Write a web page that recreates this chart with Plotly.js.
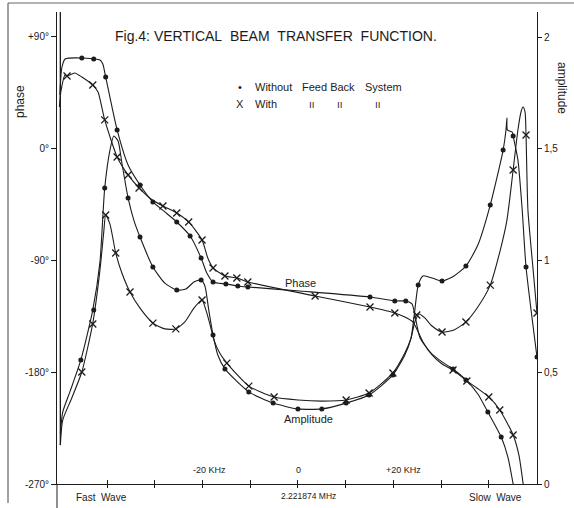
<!DOCTYPE html>
<html><head><meta charset="utf-8">
<script src="https://cdn.plot.ly/plotly-3.0.1.min.js"></script>
<style>html,body{margin:0;padding:0;background:#fff}#chart{width:574px;height:508px}</style>
</head><body><div id="chart"></div>
<script>
// Frequency offset from 2.221874 MHz, in kHz
// Phase (deg), without feedback: drawn curve
const phaseWithoutX = [-49.9,-49.5,-48.8,-45.3,-42.8,-41.5,-40.9,-40.3,-37.9,-35.6,-33.1,-30.4,-27.9,-25.4,-22.6,-20.3,-19.1,-17.8,-15.1,-12.6,-10.5,0.4,15.1,20.3,22.6,23.9,24.7,25.6,27.7,30.2,32.5,35.2,37.7,39.8,42.6,44.0,45.1];
const phaseWithoutY = [43.3,65.0,72.3,73.1,72.3,71.5,68.3,57.8,15.1,-13.1,-29.2,-42.9,-50.9,-59.0,-70.3,-88.0,-100.1,-107.3,-108.9,-110.5,-111.3,-114.6,-119.4,-122.6,-122.6,-125.0,-137.9,-152.4,-163.7,-171.7,-177.4,-186.2,-197.5,-212.0,-232.2,-248.3,-270];
// Phase, without feedback: measured points
const phaseWithoutPtsX = [-45.3,-42.8,-40.3,-37.9,-33.1,-30.4,-25.4,-22.6,-20.3,-17.8,-15.1,-12.6,-10.5,15.1,20.3,22.6,32.5,35.2,39.8,42.6];
const phaseWithoutPtsY = [73.1,72.3,57.8,15.1,-29.2,-42.9,-59.0,-70.3,-88.0,-107.3,-108.9,-110.5,-111.3,-119.4,-122.6,-122.6,-177.4,-186.2,-212.0,-232.2];

// Phase, with feedback: drawn curve
const phaseWithX = [-50.0,-49.7,-48.8,-48.4,-46.8,-45.3,-43.0,-41.9,-40.5,-37.9,-35.6,-33.3,-30.8,-28.3,-25.4,-22.9,-20.1,-18.9,-17.8,-15.3,-12.8,-10.5,3.6,15.1,20.3,22.4,24.1,25.2,26.2,28.1,30.2,32.5,35.4,37.5,40.0,42.3,45.1,46.3,47.2];
const phaseWithY = [33.6,45.7,59.4,58.6,61.0,57.8,51.3,45.7,23.2,-6.6,-21.1,-31.6,-40.5,-46.1,-51.7,-59.0,-73.5,-88.0,-96.0,-102.5,-104.1,-107.3,-118.6,-127.5,-132.3,-135.5,-139.5,-147.6,-155.6,-166.1,-173.4,-178.2,-187.0,-192.7,-199.9,-210.4,-230.5,-246.6,-270];
const phaseWithPtsX = [-48.4,-43.0,-40.5,-37.9,-35.6,-33.3,-28.3,-25.4,-22.9,-20.1,-17.8,-15.3,-12.8,-10.5,3.6,15.1,20.3,32.5,35.4,40.0,42.3,45.1];
const phaseWithPtsY = [58.6,51.3,23.2,-6.6,-21.1,-31.6,-46.1,-51.7,-59.0,-73.5,-96.0,-102.5,-104.1,-107.3,-118.6,-127.5,-132.3,-178.2,-187.0,-199.9,-210.4,-230.5];

// Amplitude, without feedback: drawn curve
const ampWithoutX = [-49.8,-49.3,-47.8,-45.5,-43.0,-41.5,-40.5,-39.4,-38.6,-37.7,-36.9,-35.6,-34.4,-33.1,-30.4,-27.9,-25.4,-23.5,-21.8,-20.3,-19.5,-18.7,-17.8,-16.8,-15.3,-10.3,-5.2,0,5.0,10.1,14.9,19.9,22.4,23.7,24.5,25.2,26.2,28.1,30.2,32.7,35.2,37.7,40.3,43.0,43.6,43.8,43.9,44.9,45.1,46.1,47.0,47.8,50.1];
const ampWithoutY = [0.228,0.322,0.412,0.555,0.779,0.993,1.324,1.494,1.557,1.535,1.436,1.280,1.181,1.105,0.971,0.899,0.868,0.872,0.904,0.913,0.886,0.779,0.667,0.577,0.515,0.412,0.362,0.336,0.336,0.362,0.398,0.488,0.577,0.653,0.779,0.890,0.931,0.922,0.908,0.931,0.975,1.069,1.248,1.494,1.584,1.638,1.584,1.575,1.557,1.450,1.226,0.971,0.568];
const ampWithoutPtsX = [-45.5,-42.8,-40.5,-35.6,-33.1,-30.4,-25.4,-20.3,-17.8,-15.3,-10.3,-5.2,0,5.0,10.1,14.9,19.9,25.2,30.2,35.2,40.3,43.0,45.1,47.8,50.1];
const ampWithoutPtsY = [0.555,0.779,1.324,1.280,1.105,0.971,0.868,0.913,0.667,0.515,0.412,0.362,0.336,0.336,0.362,0.398,0.488,0.890,0.908,0.975,1.248,1.494,1.557,0.971,0.568];

// Amplitude, with feedback: drawn curve
const ampWithX = [-49.8,-49.3,-47.4,-45.3,-43.0,-41.5,-40.7,-40.3,-39.4,-38.2,-36.9,-35.2,-33.1,-30.4,-27.9,-25.6,-23.7,-21.8,-20.1,-19.3,-18.4,-17.6,-16.4,-14.9,-10.3,-5.0,0,5.0,10.1,14.9,19.9,22.4,23.7,24.5,25.4,26.6,28.1,30.2,32.7,35.2,37.7,40.3,42.3,43.8,45.1,46.1,46.8,47.2,47.6,47.8,48.2,49.1,50.1];
const ampWithY = [0.174,0.286,0.385,0.501,0.720,0.957,1.128,1.204,1.163,1.034,0.944,0.859,0.787,0.720,0.694,0.694,0.725,0.787,0.823,0.779,0.711,0.644,0.586,0.541,0.438,0.389,0.376,0.371,0.376,0.407,0.497,0.586,0.653,0.725,0.761,0.743,0.707,0.680,0.689,0.725,0.792,0.890,1.038,1.181,1.405,1.584,1.669,1.687,1.664,1.562,1.226,1.002,0.765];
const ampWithPtsX = [-45.3,-43.0,-40.3,-38.2,-35.2,-30.4,-25.6,-20.1,-14.9,-10.3,-5.0,10.1,14.9,19.9,24.9,30.2,35.2,40.3,45.1,47.8,50.1];
const ampWithPtsY = [0.501,0.716,1.204,1.034,0.859,0.720,0.694,0.823,0.541,0.438,0.389,0.376,0.407,0.497,0.756,0.680,0.725,0.890,1.405,1.562,0.765];

// Pen trace along the left edge (amplitude scale)
const edgeX = [-49.8,-49.8];
const edgeY = [2.112,0.174];

// Axis ticks
const freqTicks = [-40,-30,-20,-10,0,10,20,30,40];
const phaseTicks = [90,0,-90,-180,-270];
const phaseTickText = ['+90°','0°','-90°','-180°','-270°'];
const ampTicks = [0,0.5,1,1.5,2];
const ampTickText = ['0','0,5','1','1,5','2'];

const INK = '#1c1c1c';
const lineStyle = {color: INK, width: 1.1, shape: 'spline', smoothing: 0.6};
const dotMarker = {symbol: 'circle', size: 5, color: INK};
const crossMarker = {symbol: 'x-thin-open', size: 7, color: INK, line: {color: INK, width: 1.3}};

const traces = [
  {x: phaseWithoutX, y: phaseWithoutY, mode: 'lines', line: lineStyle, xaxis: 'x', yaxis: 'y'},
  {x: phaseWithoutPtsX, y: phaseWithoutPtsY, mode: 'markers', marker: dotMarker, xaxis: 'x2', yaxis: 'y'},
  {x: phaseWithX, y: phaseWithY, mode: 'lines', line: lineStyle, xaxis: 'x', yaxis: 'y'},
  {x: phaseWithPtsX, y: phaseWithPtsY, mode: 'markers', marker: crossMarker, xaxis: 'x2', yaxis: 'y'},
  {x: ampWithoutX, y: ampWithoutY, mode: 'lines', line: lineStyle, xaxis: 'x', yaxis: 'y2'},
  {x: ampWithoutPtsX, y: ampWithoutPtsY, mode: 'markers', marker: dotMarker, xaxis: 'x2', yaxis: 'y2'},
  {x: ampWithX, y: ampWithY, mode: 'lines', line: lineStyle, xaxis: 'x', yaxis: 'y2'},
  {x: ampWithPtsX, y: ampWithPtsY, mode: 'markers', marker: crossMarker, xaxis: 'x2', yaxis: 'y2'},
  {x: edgeX, y: edgeY, mode: 'lines', line: {color: INK, width: 1.3, shape: 'linear'}, xaxis: 'x', yaxis: 'y2'}
];

const L = 57, R = 537, T = 12, B = 484;
const px = v => (v - L) / (R - L);
const py = v => (B - v) / (B - T);

function ann(text, x, y, size, opts) {
  return Object.assign({text: text, xref: 'paper', yref: 'paper', x: px(x), y: py(y),
    showarrow: false, xanchor: 'center', yanchor: 'middle',
    font: {size: size, color: INK, family: 'Liberation Sans, Arial, sans-serif'}}, opts || {});
}

const annotations = [
  ann('-20\u00a0KHz', 209, 470, 9),
  ann('0', 298, 470, 9),
  ann('+20\u00a0KHz', 403, 470, 9),
  ann('2.221874 MHz', 308, 496, 8.5),
  ann('Fast\u00a0\u00a0Wave', 101, 497, 10),
  ann('Slow\u00a0\u00a0Wave', 495, 497, 10),
  ann('Phase', 300, 283, 11),
  ann('Amplitude', 308, 419, 11),
  ann('phase', 20, 102, 12, {textangle: -90}),
  ann('amplitude', 562, 88, 12, {textangle: 90}),
  ann('•', 240, 87, 11),
  ann('Without', 253, 87, 11, {xanchor: 'left'}),
  ann('Feed\u00a0Back', 300, 87, 11, {xanchor: 'left'}),
  ann('System', 363, 87, 11, {xanchor: 'left'}),
  ann('X', 240, 104, 11),
  ann('With', 253, 104, 11, {xanchor: 'left'}),
  ann('ıı', 312, 104, 10),
  ann('ıı', 340, 104, 10),
  ann('ıı', 378, 104, 10)
];

const shapes = [
  {type: 'line', xref: 'paper', yref: 'paper', x0: px(8), x1: px(574), y0: py(3), y1: py(3), line: {color: '#666', width: 1}},
  {type: 'line', xref: 'paper', yref: 'paper', x0: px(8), x1: px(8), y0: py(3), y1: py(503), line: {color: '#444', width: 1}},
  {type: 'line', xref: 'paper', yref: 'paper', x0: 0, x1: 0, y0: 0, y1: py(508), line: {color: INK, width: 1}}
];

const axisCommon = {showgrid: false, zeroline: false, fixedrange: true};
const layout = {
  width: 574, height: 508,
  margin: {l: L, r: 574 - R, t: T, b: 508 - B, pad: 0},
  paper_bgcolor: '#fff', plot_bgcolor: '#fff',
  showlegend: false,
  font: {family: 'Liberation Sans, Arial, sans-serif', size: 10, color: INK},
  title: {text: 'Fig.4: VERTICAL\u00a0\u00a0BEAM\u00a0\u00a0TRANSFER\u00a0\u00a0FUNCTION.',
    xref: 'container', yref: 'container', x: 115 / 574, xanchor: 'left', y: 1 - 36 / 508, yanchor: 'middle',
    font: {size: 14, color: INK}},
  xaxis: Object.assign({}, axisCommon, {range: [-50.5, 50.1], showline: true, linecolor: INK, linewidth: 1,
    ticks: 'outside', ticklen: 3, tickcolor: INK, tickvals: freqTicks, showticklabels: false}),
  xaxis2: Object.assign({}, axisCommon, {range: [-50.5, 50.1], overlaying: 'x', anchor: 'y', side: 'bottom', showline: false,
    ticks: 'inside', ticklen: 4, tickcolor: INK, tickvals: freqTicks, showticklabels: false}),
  yaxis: Object.assign({}, axisCommon, {range: [-270, 110.1], showline: true, linecolor: INK, linewidth: 1,
    ticks: 'outside', ticklen: 5, tickcolor: INK, tickvals: phaseTicks, ticktext: phaseTickText, tickfont: {size: 10}}),
  yaxis2: Object.assign({}, axisCommon, {range: [0, 2.112], overlaying: 'y', side: 'right', anchor: 'x', showline: true, linecolor: INK, linewidth: 1,
    ticks: 'outside', ticklen: 4, tickcolor: INK, tickvals: ampTicks, ticktext: ampTickText, tickfont: {size: 10}}),
  annotations: annotations,
  shapes: shapes
};

Plotly.newPlot('chart', traces, layout, {displayModeBar: false, staticPlot: true});
</script>
</body></html>
